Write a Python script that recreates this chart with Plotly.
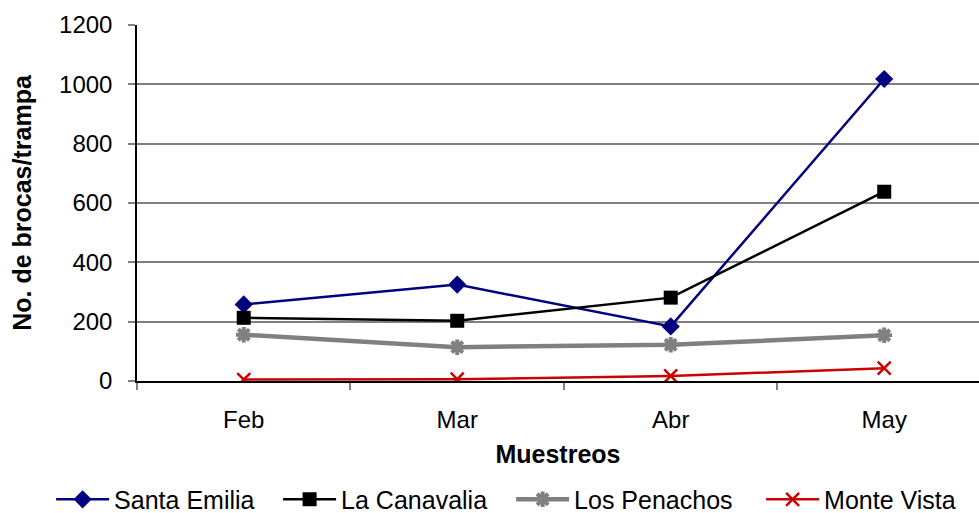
import plotly.graph_objects as go

months = ["Feb", "Mar", "Abr", "May"]
santa_emilia = [258, 325, 184, 1018]
la_canavalia = [213, 203, 281, 638]
los_penachos = [156, 114, 122, 154]
monte_vista = [5, 6, 17, 43]
series_names = ["Santa Emilia", "La Canavalia", "Los Penachos", "Monte Vista"]

FONT = "Liberation Sans, Arial, sans-serif"

fig = go.Figure()
fig.add_trace(go.Scatter(
    x=months, y=santa_emilia, name=series_names[0], mode="lines+markers",
    legendwidth=159,
    line=dict(color="#000080", width=2.5),
    marker=dict(symbol="diamond", size=14, color="#000080")))
fig.add_trace(go.Scatter(
    x=months, y=la_canavalia, name=series_names[1], mode="lines+markers",
    legendwidth=165,
    line=dict(color="#000000", width=2.5),
    marker=dict(symbol="square", size=14, color="#000000")))
fig.add_trace(go.Scatter(
    x=months, y=los_penachos, name=series_names[2], mode="lines+markers",
    legendwidth=182,
    line=dict(color="#808080", width=4.5),
    marker=dict(symbol="asterisk-open", size=13, color="#808080",
                line=dict(color="#808080", width=4))))
fig.add_trace(go.Scatter(
    x=months, y=monte_vista, name=series_names[3], mode="lines+markers",
    legendwidth=140,
    line=dict(color="#CC0000", width=2.5),
    marker=dict(symbol="x-thin-open", size=13, color="#CC0000",
                line=dict(color="#CC0000", width=2.5))))

fig.update_layout(
    width=979, height=513,
    margin=dict(l=137, r=0, t=25, b=132, autoexpand=False),
    paper_bgcolor="white", plot_bgcolor="white",
    font=dict(family=FONT, size=24, color="black"),
    showlegend=True,
    legend=dict(orientation="h", x=-0.102, xref="paper", xanchor="left",
                y=-0.333, yref="paper", yanchor="middle",
                font=dict(size=25), itemwidth=53, bgcolor="rgba(0,0,0,0)"),
    xaxis=dict(
        type="category", range=[-0.5, 3.444], tickson="boundaries",
        showgrid=False, showline=True, linecolor="black", linewidth=1.5,
        ticks="outside", ticklen=7, tickcolor="#808080", tickwidth=1.5,
        tickfont=dict(size=24), ticklabelstandoff=16,
        title=dict(text="<b>Muestreos</b>", font=dict(size=25), standoff=14),
        zeroline=False),
    yaxis=dict(
        range=[0, 1200], tickvals=[0, 200, 400, 600, 800, 1000, 1200],
        showgrid=True, gridcolor="#808080", gridwidth=1.5,
        showline=True, linecolor="black", linewidth=1.5,
        ticks="outside", ticklen=7, tickcolor="#808080", tickwidth=1.5,
        tickfont=dict(size=24), ticklabelstandoff=11,
        title=dict(text="<b>No. de brocas/trampa</b>", font=dict(size=25), standoff=20),
        zeroline=False),
)

fig.write_html("out.html", config={"displayModeBar": False},
               post_script="document.body.style.margin='0';")
